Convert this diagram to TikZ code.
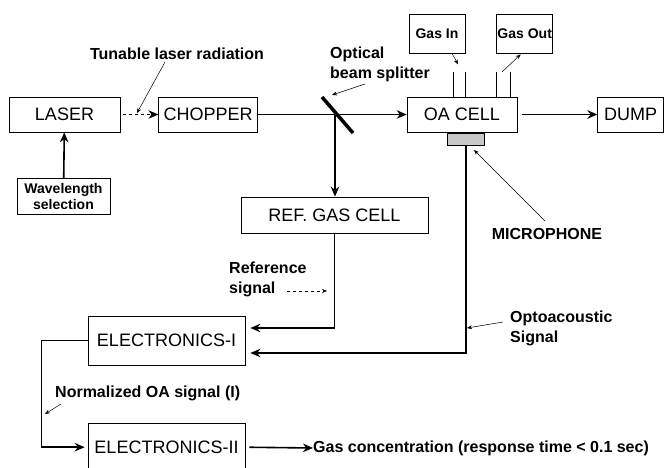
\documentclass[tikz,border=0pt]{standalone}
\usepackage{fontspec}
\setmainfont{Liberation Sans}
\usetikzlibrary{arrows.meta,positioning,calc}

\begin{document}
\begin{tikzpicture}[
  x=1pt, y=-1pt,
  box/.style={draw, line width=0.7pt, minimum height=35pt, inner sep=0pt,
              font=\fontsize{18}{20}\selectfont},
  tag/.style={draw, line width=0.7pt, align=center, inner sep=0pt,
              font=\fontsize{14}{16}\selectfont\bfseries},
  lbl/.style={align=left, inner sep=0pt, font=\fontsize{16}{20}\selectfont\bfseries},
  arr/.style={-{Stealth[length=10pt,width=8.5pt]}, line width=1.6pt},
  ptr/.style={-{Stealth[length=5pt,width=4pt]}, line width=0.5pt},
  pipe/.style={line width=0.7pt},
]
\useasboundingbox (0,0) rectangle (665,468);

% ---------- Optical path ----------
\node[box, minimum width=111pt] (laser) at (64.5,114.5) {LASER};
\node[box, minimum width=99pt, right=38pt of laser] (chopper) {CHOPPER};
\node[box, minimum width=110pt] (oacell) at (462,114.5) {OA CELL};
\node[box, minimum width=66pt, right=80pt of oacell] (dump) {DUMP};
\node[tag, minimum width=93pt, minimum height=36pt, below=46pt of laser, xshift=-1pt]
  (wavesel) {Wavelength\\selection};
\coordinate (bs) at (335,114.5);

\draw[arr, dashed, line width=1.2pt, shorten <=3pt] (laser) -- (chopper);
\draw[arr, line width=1.2pt] (chopper) -- (oacell);
\draw[arr, shorten <=5pt] (oacell) -- (dump);
\draw[arr] (wavesel) -- (laser);
\draw[line width=3.5pt] ($(bs)+(-13,-17.5)$) -- ($(bs)+(18,18.5)$);

% ---------- Gas handling and microphone ----------
\node[tag, minimum width=56pt, minimum height=39pt] (gasin) at (437,33.5) {Gas In};
\node[tag, minimum width=56pt, minimum height=39pt, right=31pt of gasin] (gasout) {Gas Out};
\node[draw, line width=0.5pt, fill=black!22, minimum width=37pt, minimum height=12pt,
      inner sep=0pt, below=1pt of oacell, xshift=3.5pt] (mic) {};

\draw[pipe] (453,72) -- (453,97);
\draw[pipe] (465,72) -- (465,97);
\draw[pipe] (496,72) -- (496,97);
\draw[pipe] (510,72) -- (510,97);
\draw[ptr] ($(gasin.south)+(15,0)$) -- ++(6,11);
\draw[ptr] (502,72) -- ($(gasout.south)+(-4,1)$);

% ---------- Reference branch and electronics ----------
\node[box, minimum width=187pt, minimum height=36pt] (refcell) at (334.5,215) {REF. GAS CELL};
\node[box, minimum width=157pt, minimum height=49pt] (elec1) at (166.5,340.5) {ELECTRONICS-I};
\node[box, minimum width=157pt, minimum height=47pt, below=58pt of elec1] (elec2) {ELECTRONICS-II};
\node[lbl, anchor=west] (conc) at (313,448) {Gas concentration (response time < 0.1 sec)};

\draw[arr] (bs) -- (bs |- refcell.north);
\draw[arr, shorten >=5pt] (refcell.south) |- ([yshift=12.5pt]elec1.east);
\draw[arr, line width=2pt, shorten >=5pt] (mic.south) |- ([yshift=-12.5pt]elec1.east);
\draw[arr, shorten >=3pt] (elec1.west) -- ++(-46,0) |- (elec2.west);
\draw[arr, shorten <=4pt] (elec2.east) -- (conc.west);

% ---------- Labels ----------
\node[lbl] (tunlbl) at (177,54) {Tunable laser radiation};
\node[lbl, anchor=west] (bslbl) at (330,64) {Optical\\beam splitter};
\node[lbl] (miclbl) at (547,234) {MICROPHONE};
\node[lbl, anchor=west] (oalbl) at (510,328) {Optoacoustic\\Signal};
\node[lbl, anchor=west] (reflbl) at (229,279) {Reference\\signal};
\node[lbl, anchor=west] (normlbl) at (55,393) {Normalized OA signal (I)};

\draw[ptr] (165,62) -- (137,113);
\draw[ptr] (365,84) -- (332,95);
\draw[ptr] (545,221) -- (474,150);
\draw[ptr] (503,322) -- (467,328);
\draw[ptr, dashed] (287,291) -- (327,291);
\draw[ptr] (61,404) -- (45,414);

\end{tikzpicture}
\end{document}
